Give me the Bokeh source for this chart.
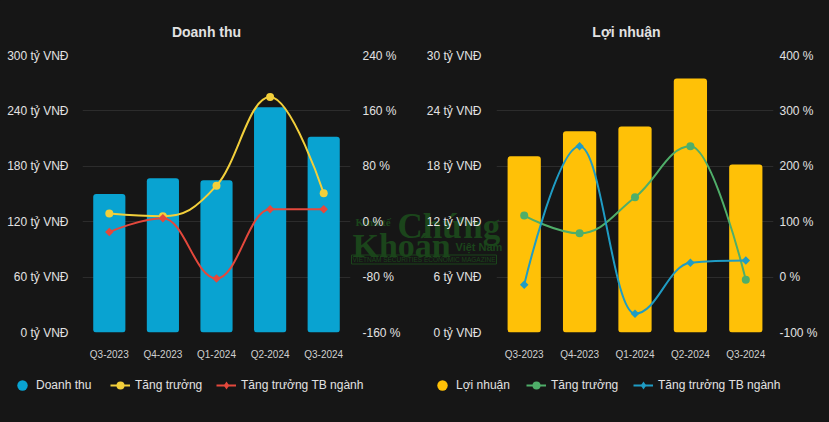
import math
from bokeh.plotting import figure
from bokeh.models import (Range1d, LinearAxis, FixedTicker, Legend, LegendItem, Label,
                          GridBox, Row)
from bokeh.embed import file_html
from bokeh.resources import INLINE

# ---------------- data ----------------
categories = ["Q3-2023", "Q4-2023", "Q1-2024", "Q2-2024", "Q3-2024"]

doanh_thu = [150, 167, 165, 244, 212]            # tỷ VNĐ
dt_tang_truong = [12, 8, 52, 180, 41]            # %
dt_tb_nganh = [-15, 5, -82, 18, 18]              # %

loi_nhuan = [19.1, 21.8, 22.3, 27.5, 18.2]       # tỷ VNĐ
ln_tang_truong = [111, 79, 144, 236, -5]         # %
ln_tb_nganh = [-14, 236, -66, 26, 30]            # %

dt_left_ticks = [0, 60, 120, 180, 240, 300]
dt_right_ticks = [-160, -80, 0, 80, 160, 240]
ln_left_ticks = [0, 6, 12, 18, 24, 30]
ln_right_ticks = [-100, 0, 100, 200, 300, 400]

# ---------------- style ----------------
BG = "#161616"
GRID = "#2c2c2c"
TXT = "#e2e2e2"
XTXT = "#d0d0d0"
FONT = "Liberation Sans"
WM = "#1b451b"

C_BAR1, C_L11, C_L12 = "#09a3d1", "#f2cf3b", "#e4483c"
C_BAR2, C_L21, C_L22 = "#ffc107", "#4fae69", "#1f9cc4"
NAN = float("nan")


def spline(xs, ys, smoothing=1.5):
    """Highcharts-style spline control points between successive points."""
    n = len(xs)
    denom = smoothing + 1
    left = [None] * n
    right = [None] * n
    for i in range(n):
        px, py = xs[i], ys[i]
        if 0 < i < n - 1:
            lx, ly = xs[i - 1], ys[i - 1]
            nx, ny = xs[i + 1], ys[i + 1]
            lcx = (smoothing * px + lx) / denom
            lcy = (smoothing * py + ly) / denom
            rcx = (smoothing * px + nx) / denom
            rcy = (smoothing * py + ny) / denom
            if rcx != lcx:
                corr = ((rcy - lcy) * (rcx - px)) / (rcx - lcx) + py - rcy
                lcy += corr
                rcy += corr
            if lcy > ly and lcy > py:
                lcy = max(ly, py)
                rcy = 2 * py - lcy
            elif lcy < ly and lcy < py:
                lcy = min(ly, py)
                rcy = 2 * py - lcy
            if rcy > ny and rcy > py:
                rcy = max(ny, py)
                lcy = 2 * py - rcy
            elif rcy < ny and rcy < py:
                rcy = min(ny, py)
                lcy = 2 * py - rcy
            left[i] = (lcx, lcy)
            right[i] = (rcx, rcy)
        else:
            left[i] = (px, py)
            right[i] = (px, py)
    d = dict(x0=[], y0=[], x1=[], y1=[], cx0=[], cy0=[], cx1=[], cy1=[])
    for i in range(1, n):
        d["x0"].append(xs[i - 1]); d["y0"].append(ys[i - 1])
        d["x1"].append(xs[i]); d["y1"].append(ys[i])
        d["cx0"].append(right[i - 1][0]); d["cy0"].append(right[i - 1][1])
        d["cx1"].append(left[i][0]); d["cy1"].append(left[i][1])
    return d


def style_axis(ax, size, color, standoff):
    ax.axis_line_color = None
    ax.major_tick_line_color = None
    ax.minor_tick_line_color = None
    ax.major_tick_out = 0
    ax.major_tick_in = 0
    ax.major_label_text_color = color
    ax.major_label_text_font = FONT
    ax.major_label_text_font_size = size
    ax.major_label_standoff = standoff


def make_chart(bar_vals, bar_color, left_ticks, right_ticks,
               l1_vals, l1_color, l2_vals, l2_color, width, border_right,
               left_standoff, right_standoff):
    n = len(categories)
    xs = [i + 0.5 for i in range(n)]
    p = figure(width=width, height=422, x_range=Range1d(0, n),
               y_range=Range1d(left_ticks[0], left_ticks[-1]),
               output_backend="svg", toolbar_location=None,
               background_fill_alpha=0, border_fill_alpha=0,
               min_border_left=82, min_border_right=border_right,
               min_border_top=55, min_border_bottom=90,
               outline_line_color=None)
    p.extra_y_ranges = {"pct": Range1d(right_ticks[0], right_ticks[-1])}

    p.xaxis.ticker = FixedTicker(ticks=xs)
    p.xaxis.major_label_overrides = {x: c for x, c in zip(xs, categories)}
    style_axis(p.xaxis[0], "10px", XTXT, 16)
    p.yaxis.ticker = FixedTicker(ticks=left_ticks)
    p.yaxis.major_label_overrides = {t: f"{t} tỷ VNĐ" for t in left_ticks}
    style_axis(p.yaxis[0], "12px", TXT, left_standoff)
    rax = LinearAxis(y_range_name="pct", ticker=FixedTicker(ticks=right_ticks))
    rax.major_label_overrides = {t: f"{t} %" for t in right_ticks}
    style_axis(rax, "12px", TXT, right_standoff)
    p.add_layout(rax, "right")

    p.xgrid.visible = False
    p.ygrid.ticker = FixedTicker(ticks=left_ticks)
    p.ygrid.grid_line_color = GRID
    p.ygrid.grid_line_width = 1

    p.vbar(x=xs, top=bar_vals, bottom=0, width=0.6, fill_color=bar_color,
           line_color=None, border_radius=3)

    p.bezier(line_color=l1_color, line_width=2, y_range_name="pct", **spline(xs, l1_vals))
    p.scatter(x=xs, y=l1_vals, marker="circle", size=8, fill_color=l1_color,
              line_color=None, y_range_name="pct")
    p.bezier(line_color=l2_color, line_width=2, y_range_name="pct", **spline(xs, l2_vals))
    p.scatter(x=xs, y=l2_vals, marker="square", angle=math.pi / 4, size=6,
              fill_color=l2_color, line_color=None, y_range_name="pct")
    return p


p1 = make_chart(doanh_thu, C_BAR1, dt_left_ticks, dt_right_ticks,
                dt_tang_truong, C_L11, dt_tb_nganh, C_L12,
                width=414, border_right=64, left_standoff=14, right_standoff=12)
p2 = make_chart(loi_nhuan, C_BAR2, ln_left_ticks, ln_right_ticks,
                ln_tang_truong, C_L21, ln_tb_nganh, C_L22,
                width=415, border_right=56, left_standoff=15, right_standoff=6)

# ------------- background layer: titles, legends, watermark -------------
ov = figure(width=829, height=422, x_range=Range1d(0, 829), y_range=Range1d(422, 0),
            output_backend="svg", toolbar_location=None,
            x_axis_type=None, y_axis_type=None,
            background_fill_color=BG, border_fill_color=BG, outline_line_color=None,
            min_border=0, min_border_left=0, min_border_right=0,
            min_border_top=0, min_border_bottom=0)

for txt, X, Y, fnt, fs, st in [
        ("Kinh tế", 355, 221, "Liberation Serif", "11px", "bold"),
        ("Chứng", 397, 226, "Liberation Serif", "35px", "bold"),
        ("Khoán", 352, 245, "Liberation Serif", "34px", "bold"),
        ("Việt Nam", 455, 246, "Liberation Sans", "11px", "bold")]:
    ov.add_layout(Label(x=X, y=Y, text=txt, text_font=fnt, text_font_size=fs,
                        text_font_style=st, text_color=WM, text_baseline="alphabetic"))
ov.add_layout(Label(x=351, y=259, text="VIETNAM SECURITIES ECONOMIC MAGAZINE",
                    text_font="Liberation Sans", text_font_size="6.5px", text_color=WM,
                    text_baseline="alphabetic", border_line_color=WM, border_line_width=1,
                    padding=1))

for title, tx in [("Doanh thu", 206), ("Lợi nhuận", 626)]:
    ov.add_layout(Label(x=tx, y=31, text=title, text_align="center", text_baseline="middle",
                        text_font=FONT, text_font_size="14px", text_font_style="bold",
                        text_color=TXT))


def one_legend(label, renderers, x, y, gw, gh, standoff):
    lg = Legend(items=[LegendItem(label=label, renderers=renderers)],
                location=(x, y), orientation="horizontal",
                glyph_width=gw, glyph_height=gh, label_height=20,
                label_standoff=standoff, spacing=0, padding=0, margin=0,
                border_line_color=None, background_fill_alpha=0,
                label_text_color=TXT, label_text_font=FONT, label_text_font_size="12px")
    ov.add_layout(lg, "center")


def legend_for(bar_name, bar_color, c1, c2, x_circle, x_l1, x_l2):
    # stand-in renderers for the legend only (NaN data: nothing drawn on the canvas)
    lb = ov.scatter(x=[NAN], y=[NAN], marker="circle", fill_color=bar_color, line_color=None)
    l1 = ov.line(x=[NAN, NAN], y=[NAN, NAN], line_color=c1, line_width=2)
    m1 = ov.scatter(x=[NAN], y=[NAN], marker="circle", fill_color=c1, line_color=None)
    l2 = ov.line(x=[NAN, NAN], y=[NAN, NAN], line_color=c2, line_width=2)
    m2 = ov.scatter(x=[NAN], y=[NAN], marker="diamond", fill_color=c2, line_color=None)
    one_legend(bar_name, [lb], x_circle, 24, 26, 26, 1)
    one_legend("Tăng trưởng", [l1, m1], x_l1, 27, 20, 20, 5)
    one_legend("Tăng trưởng TB ngành", [l2, m2], x_l2, 27, 20, 20, 5)


legend_for("Doanh thu", C_BAR1, C_L11, C_L12, 9, 110, 216)
legend_for("Lợi nhuận", C_BAR2, C_L21, C_L22, 429, 526, 633)

charts = Row(children=[p1, p2], spacing=0)
p = GridBox(children=[(ov, 0, 0), (charts, 0, 0)], spacing=0)
p.styles = {"background-color": BG}
open("out.html", "w").write(file_html(p, INLINE))
